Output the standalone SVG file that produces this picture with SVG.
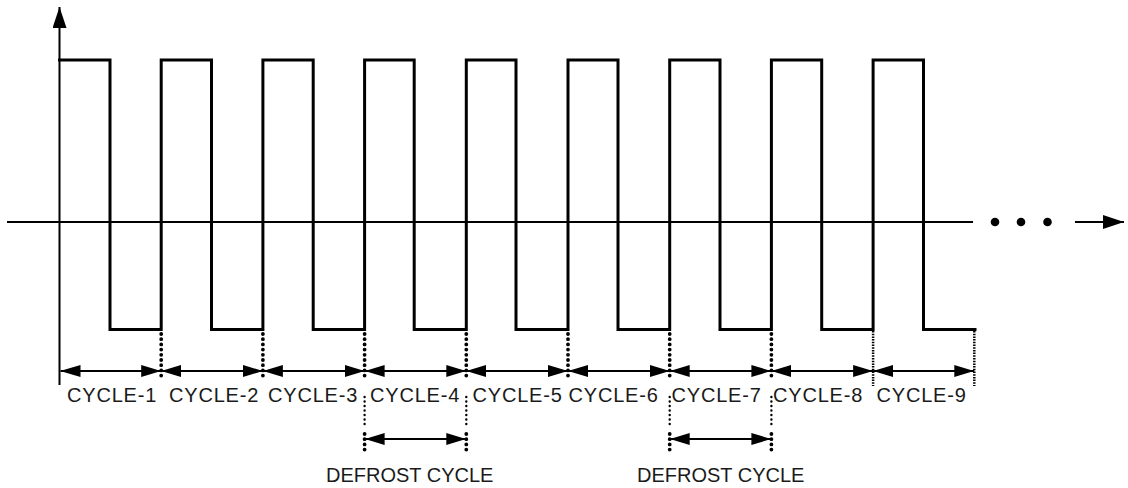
<svg xmlns="http://www.w3.org/2000/svg" width="1128" height="488" viewBox="0 0 1128 488">
<style>
.axis{stroke:#000;stroke-width:2;fill:none}
.wave{stroke:#000;stroke-width:3;fill:none;stroke-linejoin:miter;stroke-linecap:square}
.dim{stroke:#000;stroke-width:2;fill:none;marker-start:url(#ah);marker-end:url(#ah)}
.dot{stroke:#000;stroke-width:3.8;fill:none;stroke-dasharray:0 5.2;stroke-linecap:round}
.dots{stroke:#000;stroke-width:2.4;fill:none;stroke-dasharray:0 4.5;stroke-linecap:round}
.fine{stroke:#000;stroke-width:2.5;fill:none;stroke-dasharray:1.5 1.2}
.lbl{font-family:"Liberation Sans",Arial,sans-serif;font-size:20px;fill:#1a1a1a}
.cyc{letter-spacing:0.8px}
</style>
<defs>
<marker id="ah" viewBox="0 0 20 12" refX="20" refY="6" markerWidth="20" markerHeight="12" markerUnits="userSpaceOnUse" orient="auto-start-reverse">
<path d="M0,0 L20,6 L0,12 Z" fill="#000"/>
</marker>
<marker id="axh" viewBox="0 0 21 14" refX="21" refY="7" markerWidth="21" markerHeight="14" markerUnits="userSpaceOnUse" orient="auto">
<path d="M0,0 L21,7 L0,14 Z" fill="#000"/>
</marker>
</defs>
<g id="axes">
<line class="axis" x1="59.5" y1="385" x2="59.5" y2="7" marker-end="url(#axh)"/>
<line class="axis" x1="7" y1="222" x2="973" y2="222"/>
<circle cx="995" cy="222" r="4.3" fill="#000"/>
<circle cx="1021" cy="222" r="4.3" fill="#000"/>
<circle cx="1047.5" cy="222" r="4.3" fill="#000"/>
<line class="axis" x1="1075" y1="222" x2="1124" y2="222" marker-end="url(#axh)"/>
</g>
<g id="waveform">
<path class="wave" d="M59.5,60 H110 V329.5 H161.2 V60 H211.5 V329.5 H262.9 V60 H313.2 V329.5 H364.6 V60 H414.2 V329.5 H466.3 V60 H516 V329.5 H568 V60 H618 V329.5 H669.7 V60 H720 V329.5 H771.4 V60 H821.7 V329.5 H873.1 V60 H923.5 V329.5 H975"/>
</g>
<g id="connectors">
<line class="dot" x1="161.2" y1="334" x2="161.2" y2="380"/>
<line class="dot" x1="262.9" y1="334" x2="262.9" y2="380"/>
<line class="dot" x1="364.6" y1="334" x2="364.6" y2="380"/>
<line class="dot" x1="466.3" y1="334" x2="466.3" y2="380"/>
<line class="dot" x1="568" y1="334" x2="568" y2="380"/>
<line class="dot" x1="669.7" y1="334" x2="669.7" y2="380"/>
<line class="dot" x1="771.4" y1="334" x2="771.4" y2="380"/>
<line class="fine" x1="873.1" y1="331" x2="873.1" y2="386"/>
<line class="fine" x1="974.3" y1="331" x2="974.3" y2="386"/>
<line class="dots" x1="364.6" y1="397" x2="364.6" y2="428"/>
<line class="dots" x1="466.3" y1="397" x2="466.3" y2="428"/>
<line class="dots" x1="669.7" y1="397" x2="669.7" y2="428"/>
<line class="dots" x1="771.4" y1="397" x2="771.4" y2="428"/>
<line class="dot" x1="364.6" y1="434" x2="364.6" y2="452"/>
<line class="dot" x1="466.3" y1="434" x2="466.3" y2="452"/>
<line class="dot" x1="669.7" y1="434" x2="669.7" y2="452"/>
<line class="dot" x1="771.4" y1="434" x2="771.4" y2="452"/>
<line class="dim" x1="60.5" y1="371" x2="161.2" y2="371"/>
<line class="dim" x1="161.2" y1="371" x2="262.9" y2="371"/>
<line class="dim" x1="262.9" y1="371" x2="364.6" y2="371"/>
<line class="dim" x1="364.6" y1="371" x2="466.3" y2="371"/>
<line class="dim" x1="466.3" y1="371" x2="568" y2="371"/>
<line class="dim" x1="568" y1="371" x2="669.7" y2="371"/>
<line class="dim" x1="669.7" y1="371" x2="771.4" y2="371"/>
<line class="dim" x1="771.4" y1="371" x2="873.1" y2="371"/>
<line class="dim" x1="873.1" y1="371" x2="974.3" y2="371"/>
<line class="dim" x1="364.6" y1="439" x2="466.3" y2="439"/>
<line class="dim" x1="669.7" y1="439" x2="771.4" y2="439"/>
</g>
<g id="labels">
<text class="lbl cyc" x="67" y="401.5">CYCLE-1</text>
<text class="lbl cyc" x="169" y="401.5">CYCLE-2</text>
<text class="lbl cyc" x="268" y="401.5">CYCLE-3</text>
<text class="lbl cyc" x="370" y="401.5">CYCLE-4</text>
<text class="lbl cyc" x="472.5" y="401.5">CYCLE-5</text>
<text class="lbl cyc" x="568.5" y="401.5">CYCLE-6</text>
<text class="lbl cyc" x="671.5" y="401.5">CYCLE-7</text>
<text class="lbl cyc" x="773" y="401.5">CYCLE-8</text>
<text class="lbl cyc" x="876.5" y="401.5">CYCLE-9</text>
<text class="lbl" x="326" y="481.5">DEFROST CYCLE</text>
<text class="lbl" x="637" y="481.5">DEFROST CYCLE</text>
</g>
</svg>
